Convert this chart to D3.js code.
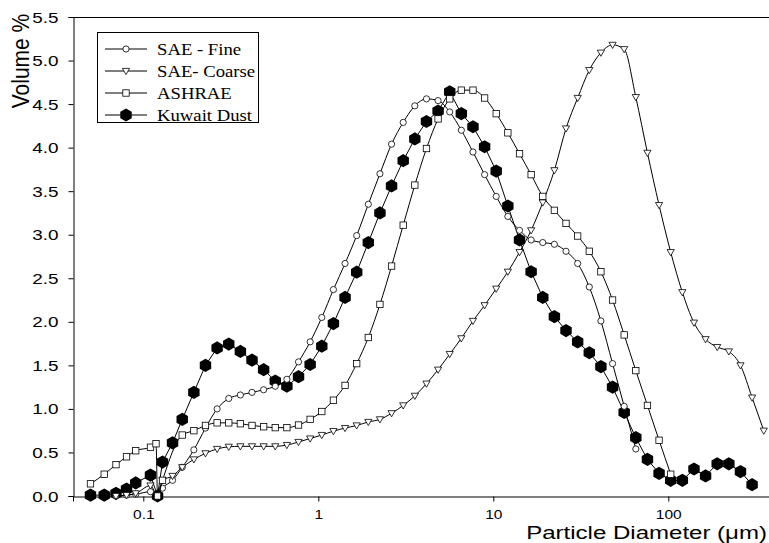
<!DOCTYPE html>
<html>
<head>
<meta charset="utf-8">
<script src="https://cdn.jsdelivr.net/npm/d3@7"></script>
<style>
  body { margin: 0; background: #fff; }
  svg { display: block; }
</style>
</head>
<body>
<svg id="chart" width="769" height="543"></svg>
<script>
// particle diameters (um) shared by all series
var diameters = [0.0499, 0.0598, 0.0698, 0.0802, 0.0905, 0.1099, 0.1182, 0.1206, 0.1287, 0.1469,
  0.1669, 0.1945, 0.2266, 0.2641, 0.3078, 0.3587, 0.4180, 0.4871, 0.5676, 0.6614,
  0.7708, 0.8982, 1.047, 1.220, 1.422, 1.657, 1.931, 2.250, 2.622, 3.056,
  3.561, 4.150, 4.836, 5.636, 6.567, 7.653, 8.918, 10.39, 12.11, 14.12,
  16.45, 19.17, 22.34, 26.03, 30.34, 35.36, 41.20, 48.02, 55.96, 65.21,
  76.00, 88.56, 103.2, 120.3, 140.2, 163.3, 190.3, 221.8, 258.5, 301.2, 351.1];

var saeFine = [null, null, 0.0, 0.01, 0.02, 0.05, null, 0, 0.09, 0.18,
  0.33, 0.53, 0.78, 1.0, 1.12, 1.16, 1.19, 1.22, 1.26, 1.34,
  1.54, 1.77, 2.05, 2.37, 2.67, 2.99, 3.35, 3.70, 4.04, 4.29,
  4.48, 4.56, 4.54, 4.41, 4.20, 3.95, 3.69, 3.44, 3.21, 3.05,
  2.94, 2.91, 2.89, 2.81, 2.67, 2.40, 2.01, 1.52, 1.03, 0.54,
  null, null, null, null, null, null, null, null, null, null, null];

var saeCoarse = [null, null, 0.0, 0.01, 0.03, 0.12, null, 0, 0.18, 0.23,
  0.33, 0.42, 0.49, 0.54, 0.565, 0.57, 0.57, 0.57, 0.57, 0.585,
  0.62, 0.66, 0.70, 0.745, 0.78, 0.81, 0.85, 0.88, 0.95, 1.04,
  1.15, 1.29, 1.45, 1.63, 1.81, 2.01, 2.19, 2.38, 2.575, 2.80,
  3.05, 3.37, 3.74, 4.22, 4.57, 4.89, 5.09, 5.18, 5.13, 4.58,
  3.94, 3.34, 2.80, 2.34, 1.99, 1.80, 1.71, 1.66, 1.50, 1.13, 0.75];

var ashrae = [0.14, 0.25, 0.36, 0.45, 0.52, 0.56, 0.60, 0, 0.18, null,
  0.70, 0.75, 0.81, 0.84, 0.84, 0.83, 0.81, 0.795, 0.785, 0.785,
  0.815, 0.88, 0.97, 1.10, 1.27, 1.52, 1.82, 2.20, 2.64, 3.11,
  3.57, 3.99, 4.33, 4.56, 4.66, 4.66, 4.57, 4.39, 4.17, 3.93,
  3.69, 3.44, 3.28, 3.13, 2.985, 2.81, 2.575, 2.25, 1.85, 1.44,
  1.04, 0.64, 0.25, null, null, null, null, null, null, null, null];

var kuwaitDust = [0.01, 0.01, 0.03, 0.08, 0.15, 0.24, null, 0, 0.39, 0.61,
  0.88, 1.19, 1.50, 1.70, 1.745, 1.66, 1.56, 1.45, 1.32, 1.26,
  1.37, 1.51, 1.72, 1.98, 2.28, 2.57, 2.91, 3.25, 3.56, 3.85,
  4.10, 4.30, 4.42, 4.64, 4.39, 4.24, 4.01, 3.73, 3.33, 2.94,
  2.575, 2.28, 2.06, 1.90, 1.77, 1.645, 1.485, 1.25, 0.96, 0.67,
  0.42, 0.26, 0.18, 0.18, 0.31, 0.23, 0.37, 0.37, 0.28, 0.13, null];

var seriesNames = ["SAE - Fine", "SAE- Coarse", "ASHRAE", "Kuwait Dust"];
var xTickValues = [0.1, 1, 10, 100];
var yTickValues = [0, 0.5, 1, 1.5, 2, 2.5, 3, 3.5, 4, 4.5, 5, 5.5];

var svg = d3.select("#chart");

var x = d3.scaleLog().domain([0.03965, 376.2]).range([73, 769]);
var y = d3.scaleLinear().domain([0, 5.5]).range([496, 17]);

// the reference text is drawn a bit wide, so stretch it horizontally
function wideText(g, px, py, str, size, anchor, sx, family) {
  return g.append("text")
      .attr("transform", "translate(" + px + "," + py + ") scale(" + sx + ",1)")
      .attr("text-anchor", anchor)
      .style("font-family", family || "Liberation Sans, Arial, sans-serif")
      .style("font-size", size + "px")
      .style("fill", "#000")
      .text(str);
}

// marker shapes
function hexPath(r) {
  var pts = d3.range(6).map(function(k) {
    var a = (-90 + 60 * k) * Math.PI / 180;
    return [r * Math.cos(a), r * Math.sin(a)];
  });
  return "M" + pts.join("L") + "Z";
}
var markers = [
  function(g) { g.append("circle").attr("r", 3.1).attr("fill", "#fff").attr("stroke", "#000").attr("stroke-width", 0.8); },
  function(g) { g.append("path").attr("d", "M-3.6,-2.6L3.6,-2.6L0,3.6Z").attr("fill", "#fff").attr("stroke", "#000").attr("stroke-width", 0.8); },
  function(g) { g.append("rect").attr("x", -3.2).attr("y", -3.2).attr("width", 6.4).attr("height", 6.4).attr("fill", "#fff").attr("stroke", "#000").attr("stroke-width", 0.8); },
  function(g) { g.append("path").attr("d", hexPath(6.6)).attr("fill", "#000"); }
];

var allSeries = [saeFine, saeCoarse, ashrae, kuwaitDust];
var curves = [d3.curveMonotoneX, d3.curveMonotoneX, d3.curveMonotoneX, d3.curveLinear];

// axes frame
svg.append("line").attr("x1", 73).attr("x2", 769).attr("y1", 17.5).attr("y2", 17.5)
    .attr("stroke", "#000").attr("stroke-width", 1);

var yAxis = svg.append("g").attr("transform", "translate(73.5,0)")
    .call(d3.axisLeft(y).tickValues(yTickValues).tickFormat(d3.format(".1f")).tickSize(5));
var xAxis = svg.append("g").attr("transform", "translate(0,496.5)")
    .call(d3.axisBottom(x).tickValues(xTickValues).tickFormat(d3.format("")).tickSize(5));

[yAxis, xAxis].forEach(function(ax) {
  ax.select(".domain").attr("stroke", "#000");
  ax.selectAll(".tick line").attr("stroke", "#000");
  ax.selectAll(".tick text").remove();
});
yAxis.selectAll(".tick").each(function(d) {
  wideText(d3.select(this), -15, 5, d3.format(".1f")(d), 14, "end", 1.35);
});
xAxis.selectAll(".tick").each(function(d) {
  wideText(d3.select(this), 0, 22, d >= 1 ? String(d) : "0.1", 13.5, "middle", 1.15);
});

// series, Kuwait underneath the open markers
[3, 0, 1, 2].forEach(function(s) {
  var pts = diameters.map(function(d, i) { return [d, allSeries[s][i]]; })
      .filter(function(p) { return p[1] !== null; });
  var line = d3.line().x(function(p) { return x(p[0]); }).y(function(p) { return y(p[1]); }).curve(curves[s]);
  var g = svg.append("g").attr("class", "series-" + s);
  g.append("path").attr("d", line(pts)).attr("fill", "none").attr("stroke", "#000").attr("stroke-width", 1);
  g.selectAll(".pt").data(pts).enter().append("g")
      .attr("class", "pt")
      .attr("transform", function(p) { return "translate(" + x(p[0]) + "," + y(p[1]) + ")"; })
      .each(function() { markers[s](d3.select(this)); });
});

// axis titles
svg.append("text")
    .attr("transform", "translate(29,61) rotate(-90) scale(1,1.1)")
    .attr("text-anchor", "middle")
    .style("font-family", "Liberation Sans, Arial, sans-serif")
    .style("font-size", "21px")
    .text("Volume %");
wideText(svg, 767, 538.5, "Particle Diameter (\u03bcm)", 18.5, "end", 1.3);

// legend
var legend = svg.append("g").attr("class", "legend");
legend.append("rect").attr("x", 97.5).attr("y", 32.5).attr("width", 161).attr("height", 90)
    .attr("fill", "#fff").attr("stroke", "#000").attr("stroke-width", 1);
seriesNames.forEach(function(name, i) {
  var ly = 49 + i * 22;
  var row = legend.append("g").attr("transform", "translate(0," + ly + ")");
  row.append("line").attr("x1", 105).attr("x2", 147).attr("y1", 0).attr("y2", 0)
      .attr("stroke", "#000").attr("stroke-width", 1);
  markers[i](row.append("g").attr("transform", "translate(126,0)"));
  wideText(row, 157, 5.5, name, 17, "start", 1.1, "Liberation Serif, Times New Roman, serif");
});
</script>
</body>
</html>
